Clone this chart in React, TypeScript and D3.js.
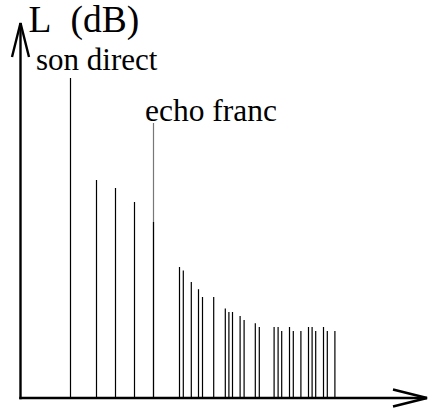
import React from "react";
import * as d3 from "d3";

// Echogram: arrival time (arbitrary units) and level L (dB) of each arrival
const directSound = { t: 12.5, level: 80 };
const earlyTimes = [19, 23.75, 28.5];
const earlyLevels = [54.5, 52.5, 49];
const echo = { t: 33.25, level: 44, labelLevel: 68.75 };
const lateTimes = [
  39.75, 40.7, 42.7, 44.5, 45.5, 48.3, 51.2, 52.1, 53, 54.9, 55.9, 58.7, 59.7,
  63.4, 64.4, 65.3, 67.25, 68.2, 70.1, 72, 72.9, 73.8, 75.75, 76.7, 78.6,
];
const lateLevels = [
  32.75, 31.9, 29, 27.2, 25.25, 25.25, 22.4, 21.5, 21.5, 20.5, 19.5, 18.7,
  17.75, 17.75, 17.75, 16.75, 17.75, 16.75, 16.75, 17.75, 17.75, 16.75, 17.75,
  16.75, 16.75,
];
const axisSymbol = "L";
const axisUnit = "(dB)";
const directLabel = "son direct";
const echoLabel = "echo franc";

const W = 440;
const H = 415;
const SERIF = '"Times New Roman", "Liberation Serif", Times, Tinos, FreeSerif';

export default function App() {
  const x = d3.scaleLinear().domain([0, 100]).range([20.5, 420.5]);
  const y = d3.scaleLinear().domain([0, 80]).range([398, 78]);
  const x0 = x(0);
  const y0 = y(0);

  const impulses = [
    directSound,
    ...earlyTimes.map((t, i) => ({ t, level: earlyLevels[i] })),
    echo,
    ...lateTimes.map((t, i) => ({ t, level: lateLevels[i] })),
  ];

  const arrowLen = 34;
  const arrowHalf = 8.5;
  const yTop = 23;
  const xEnd = 427;

  return (
    <svg
      width={W}
      height={H}
      style={{ position: "absolute", left: 0, top: 0, background: "#fff" }}
    >
      <style>{`.lbl { font-family: ${SERIF}; fill: #000; }`}</style>
      {/* leader from the label down to the echo */}
      <line
        x1={x(echo.t)}
        x2={x(echo.t)}
        y1={y(echo.labelLevel)}
        y2={y0}
        stroke="#777"
        strokeWidth={1.2}
      />
      {impulses.map((d, i) => (
        <line
          key={i}
          x1={x(d.t)}
          x2={x(d.t)}
          y1={y(d.level)}
          y2={y0}
          stroke="#000"
          strokeWidth={1.2}
        />
      ))}

      {/* axes with open arrowheads */}
      <g stroke="#000" strokeWidth={2.4} fill="none" strokeLinecap="butt">
        <line x1={x0} x2={x0} y1={y0 + 1.2} y2={yTop} />
        <polyline
          points={`${x0 - arrowHalf},${yTop + arrowLen} ${x0},${yTop} ${x0 + arrowHalf},${yTop + arrowLen}`}
          strokeLinejoin="miter"
        />
        <line x1={x0 - 1.2} x2={xEnd} y1={y0} y2={y0} />
        <polyline
          points={`${xEnd - arrowLen},${y0 - arrowHalf} ${xEnd},${y0} ${xEnd - arrowLen},${y0 + arrowHalf}`}
          strokeLinejoin="miter"
        />
      </g>

      <text className="lbl" x={28.5} y={31.5} fontSize={37.5} fontFamily={SERIF}>
        {axisSymbol} <tspan dx={11}>{axisUnit}</tspan>
      </text>
      <text className="lbl" x={36} y={69.5} fontSize={31} fontFamily={SERIF}>
        {directLabel}
      </text>
      <text className="lbl" x={145} y={121} fontSize={31.5} fontFamily={SERIF}>
        {echoLabel}
      </text>
    </svg>
  );
}
